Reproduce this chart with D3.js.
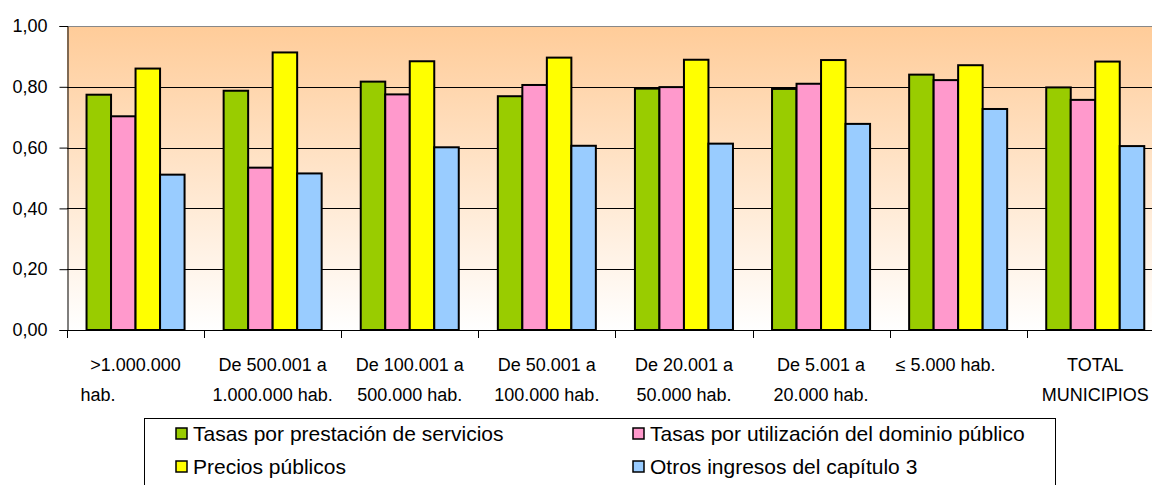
<!DOCTYPE html>
<html>
<head>
<meta charset="utf-8">
<script src="https://cdn.jsdelivr.net/npm/d3@7"></script>
<style>
  body { margin: 0; background: #fff; }
  svg { display: block; font-family: "Liberation Sans", Arial, sans-serif; }
</style>
</head>
<body>
<svg id="chart" width="1152" height="485"></svg>
<script>
var NB = "\u00a0";
var categories = [
    [">1.000.000", "hab." + NB.repeat(15)],
    ["De 500.001 a", "1.000.000 hab."],
    ["De 100.001 a", "500.000 hab."],
    ["De 50.001 a", "100.000 hab."],
    ["De 20.001 a", "50.000 hab."],
    ["De 5.001 a", "20.000 hab."],
    ["\u2264 5.000 hab." + NB.repeat(5)],
    ["TOTAL", "MUNICIPIOS"]
];
var seriesNames = [
    "Tasas por prestación de servicios",
    "Tasas por utilización del dominio público",
    "Precios públicos",
    "Otros ingresos del capítulo 3"
];
var tasasServicios = [0.774, 0.787, 0.817, 0.769, 0.794, 0.793, 0.840, 0.798];
var tasasDominio   = [0.703, 0.534, 0.775, 0.806, 0.799, 0.810, 0.822, 0.757];
var preciosPublicos = [0.860, 0.913, 0.884, 0.896, 0.889, 0.888, 0.871, 0.883];
var otrosIngresos  = [0.511, 0.515, 0.601, 0.606, 0.613, 0.678, 0.727, 0.605];
var yTicks = [0, 0.2, 0.4, 0.6, 0.8, 1.0];

var colors = ["#99CC00", "#FF99CC", "#FFFF00", "#99CCFF"];
var series = [tasasServicios, tasasDominio, preciosPublicos, otrosIngresos];

var svg = d3.select("#chart");
var plotLeft = 67, plotTop = 26, plotBottom = 330, step = 137.1;

var x0 = d3.scaleBand()
    .domain(d3.range(categories.length))
    .range([plotLeft, plotLeft + step * categories.length])
    .paddingInner(0.285)
    .paddingOuter(0.1425);
var x1 = d3.scaleBand()
    .domain(d3.range(series.length))
    .range([0, x0.bandwidth()]);
var y = d3.scaleLinear().domain([0, 1]).range([plotBottom, plotTop]);

// background gradient
var grad = svg.append("defs").append("linearGradient")
    .attr("id", "bg").attr("x1", 0).attr("y1", 0).attr("x2", 0).attr("y2", 1);
grad.append("stop").attr("offset", "0%").attr("stop-color", "#FFCC99");
grad.append("stop").attr("offset", "100%").attr("stop-color", "#FFFFFF");

svg.append("rect")
    .attr("x", plotLeft).attr("y", plotTop)
    .attr("width", 1152 - plotLeft).attr("height", plotBottom - plotTop)
    .attr("fill", "url(#bg)");

// grid lines
svg.selectAll(".grid")
    .data(yTicks.slice(1, -1))
    .enter().append("line")
    .attr("x1", plotLeft).attr("x2", 1152)
    .attr("y1", function(d) { return Math.round(y(d)) + 0.5; })
    .attr("y2", function(d) { return Math.round(y(d)) + 0.5; })
    .attr("stroke", "#000").attr("stroke-width", 1);

svg.append("line")
    .attr("x1", plotLeft).attr("x2", 1152)
    .attr("y1", plotTop + 0.5).attr("y2", plotTop + 0.5)
    .attr("stroke", "#888").attr("stroke-width", 1);

// bars
var groups = svg.selectAll(".grp")
    .data(categories)
    .enter().append("g")
    .attr("transform", function(d, i) { return "translate(" + x0(i) + ",0)"; });

groups.selectAll("rect")
    .data(function(d, i) {
        return series.map(function(s, j) { return {j: j, v: s[i]}; });
    })
    .enter().append("rect")
    .attr("x", function(d) { return x1(d.j); })
    .attr("y", function(d) { return y(d.v); })
    .attr("width", x1.bandwidth())
    .attr("height", function(d) { return y(0) - y(d.v); })
    .attr("fill", function(d) { return colors[d.j]; })
    .attr("stroke", "#000")
    .attr("stroke-width", 2);

// y axis
var yAxis = svg.append("g")
    .attr("transform", "translate(" + (plotLeft + 0.5) + ",0)")
    .call(d3.axisLeft(y).tickValues(yTicks).tickSize(8).tickPadding(12)
        .tickFormat(function(d) { return d3.format(".2f")(d).replace(".", ","); }));
yAxis.select(".domain").attr("stroke", "#000");
yAxis.selectAll("text").attr("font-size", 18).attr("fill", "#000")
    .attr("font-family", "Liberation Sans, Arial, sans-serif");

// x axis: tick marks at band boundaries
var bounds = d3.range(categories.length).map(function(i) { return x0(i) - x0.step() * 0.1425; });
svg.append("line")
    .attr("x1", plotLeft).attr("x2", 1152)
    .attr("y1", plotBottom + 0.5).attr("y2", plotBottom + 0.5)
    .attr("stroke", "#000");
svg.selectAll(".xtick")
    .data(bounds)
    .enter().append("line")
    .attr("x1", function(d) { return Math.round(d) + 0.5; })
    .attr("x2", function(d) { return Math.round(d) + 0.5; })
    .attr("y1", plotBottom).attr("y2", plotBottom + 8)
    .attr("stroke", "#000");

svg.selectAll(".xlab")
    .data(categories)
    .enter().append("text")
    .attr("text-anchor", "middle")
    .attr("font-size", 18)
    .attr("fill", "#000")
    .attr("xml:space", "preserve")
    .each(function(d, i) {
        var t = d3.select(this);
        var cx = x0(i) + x0.bandwidth() / 2;
        d.forEach(function(line, k) {
            t.append("tspan").attr("x", cx).attr("y", 371 + k * 30).text(line);
        });
    });

// legend
var legend = svg.append("g");
legend.append("rect")
    .attr("x", 144.5).attr("y", 418.5)
    .attr("width", 1055 - 144).attr("height", 80)
    .attr("fill", "#fff").attr("stroke", "#000").attr("stroke-width", 1);

var lx = [176, 633], ly = [428, 461];
var item = legend.selectAll(".item")
    .data(seriesNames)
    .enter().append("g")
    .attr("transform", function(d, i) {
        return "translate(" + lx[i % 2] + "," + ly[Math.floor(i / 2)] + ")";
    });
item.append("rect")
    .attr("width", 11).attr("height", 11)
    .attr("fill", function(d, i) { return colors[i]; })
    .attr("stroke", "#000").attr("stroke-width", 1.5);
item.append("text")
    .attr("x", 17).attr("y", 13)
    .attr("font-size", 21)
    .attr("fill", "#000")
    .text(function(d) { return d; });
</script>
</body>
</html>
